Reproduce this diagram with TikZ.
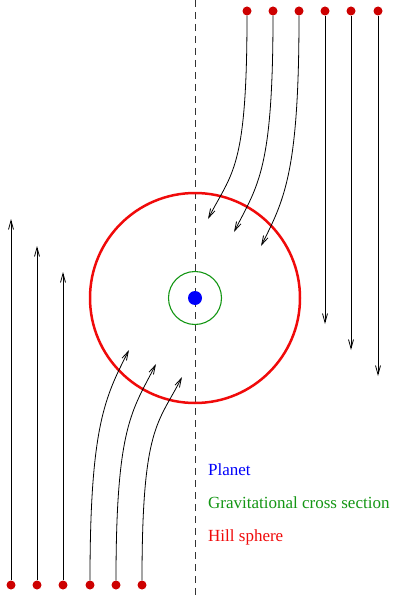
\documentclass[tikz,border=0pt]{standalone}
\definecolor{hillRed}{RGB}{240,10,10}
\definecolor{crossGreen}{RGB}{20,150,20}
\definecolor{planetBlue}{RGB}{0,0,250}
\definecolor{dotRed}{RGB}{205,0,0}
\usepackage{fontspec}
\setmainfont{Liberation Serif}
\usepackage{tikz}
\usetikzlibrary{arrows.meta,positioning}

\begin{document}
\begin{tikzpicture}[x=1pt, y=-1pt,
    particle/.style={circle, fill=dotRed, inner sep=0pt, minimum size=9pt},
    flow/.style={-{Straight Barb[length=9pt,width=5pt]}, line width=0.8pt},
    legend/.style={anchor=base west, font=\fontsize{17}{17}\selectfont, inner sep=0pt}]
  \useasboundingbox (0,0) rectangle (396,596);
  % symmetry axis
  \draw[dashed, dash pattern=on 7pt off 5pt, line width=0.8pt, black!80] (195,0) -- (195,596);
  % Hill sphere, cross section, planet
  \node[circle, draw=hillRed, line width=2.5pt, minimum size=210pt, inner sep=0pt] (hill) at (195,298) {};
  \node[circle, draw=crossGreen, line width=1.1pt, minimum size=53pt, inner sep=0pt] (cross) at (195,298) {};
  \node[circle, fill=planetBlue, minimum size=14pt, inner sep=0pt] (planet) at (195,298) {};
  % particles
  \foreach \i/\x in {1/11, 2/37, 3/63, 4/90, 5/116, 6/142}
    \node[particle] (b\i) at (\x,585) {};
  \foreach \i/\x in {1/247, 2/273, 3/299, 4/325, 5/351, 6/378}
    \node[particle] (t\i) at (\x,11) {};
  % arrow ends
  \coordinate (bl1) at (11,219);
  \coordinate (bl2) at (37,246);
  \coordinate (bl3) at (63,272);
  \coordinate (tr4) at (325,324);
  \coordinate (tr5) at (351,350);
  \coordinate (tr6) at (378,376);
  \coordinate (tc1) at (208,219);
  \coordinate (tc2) at (234,232);
  \coordinate (tc3) at (261,246);
  \coordinate (bc4) at (129,350);
  \coordinate (bc5) at (156,364);
  \coordinate (bc6) at (182,377);
  % passing particles
  \draw[flow] (b1) -- (bl1);
  \draw[flow] (b2) -- (bl2);
  \draw[flow] (b3) -- (bl3);
  \draw[flow] (t4) -- (tr4);
  \draw[flow] (t5) -- (tr5);
  \draw[flow] (t6) -- (tr6);
  % deflected particles
  \draw[flow] (t1) .. controls +(0,159) and +(24,-47) .. (tc1);
  \draw[flow] (t2) .. controls +(0,159) and +(24,-47) .. (tc2);
  \draw[flow] (t3) .. controls +(0,159) and +(24,-47) .. (tc3);
  \draw[flow] (b4) .. controls +(0,-159) and +(-24,47) .. (bc4);
  \draw[flow] (b5) .. controls +(0,-159) and +(-24,47) .. (bc5);
  \draw[flow] (b6) .. controls +(0,-159) and +(-24,47) .. (bc6);
  % legend
  \node[legend, text=planetBlue] (lplanet) at (208,475) {Planet};
  \node[legend, text=crossGreen] (lcross) at (208,508) {Gravitational cross section};
  \node[legend, text=hillRed] (lhill) at (208,541) {Hill sphere};
\end{tikzpicture}
\end{document}
